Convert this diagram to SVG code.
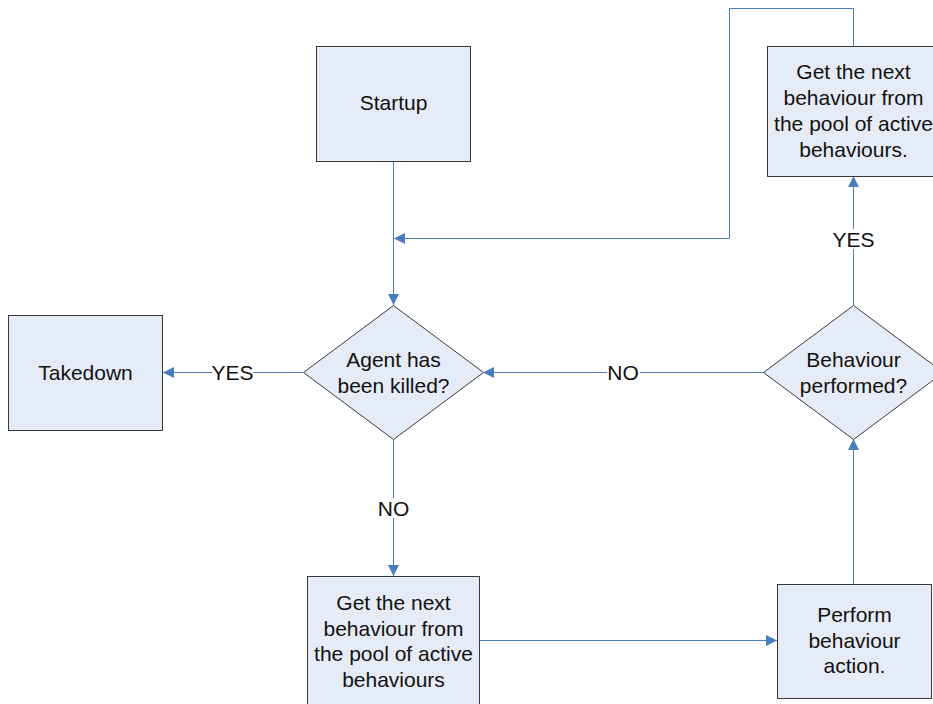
<svg xmlns="http://www.w3.org/2000/svg" width="933" height="704" viewBox="0 0 933 704">
  <style>
    .box { fill: #e6ecf7; stroke: #3a3a3a; stroke-width: 1; }
    .txt { font-family: "Liberation Sans", Arial, sans-serif; font-size: 21px; fill: #111; text-anchor: middle; }
    .conn { fill: none; stroke: #4a7ebb; stroke-width: 1; }
    .lblbg { fill: #ffffff; }
  </style>
  <defs>
    <marker id="arrow" viewBox="0 0 11 12" refX="11" refY="6" markerWidth="11" markerHeight="12" markerUnits="userSpaceOnUse" orient="auto">
      <path d="M0,0.5 L11,6 L0,11.5 Z" fill="#4a7ebb"/>
    </marker>
  </defs>
  <rect width="933" height="704" fill="#ffffff"/>

  <g id="connectors">
    <!-- Startup -> decision -->
    <path class="conn" d="M393.5,161 V305" marker-end="url(#arrow)"/>
    <!-- loop back from top-right box -->
    <path class="conn" d="M853.5,46 V8.5 H729.5 V238.5 H394" marker-end="url(#arrow)"/>
    <!-- killed? YES -> Takedown -->
    <path class="conn" d="M303,372.5 H163" marker-end="url(#arrow)"/>
    <!-- killed? NO -> get next -->
    <path class="conn" d="M393.5,439 V576" marker-end="url(#arrow)"/>
    <!-- get next -> perform -->
    <path class="conn" d="M479,640.5 H777" marker-end="url(#arrow)"/>
    <!-- perform -> performed? -->
    <path class="conn" d="M853.5,584 V439" marker-end="url(#arrow)"/>
    <!-- performed? YES -> get next (top) -->
    <path class="conn" d="M853.5,305 V176" marker-end="url(#arrow)"/>
    <!-- performed? NO -> killed? -->
    <path class="conn" d="M764,372.5 H483" marker-end="url(#arrow)"/>
    <!-- labels -->
    <rect class="lblbg" x="212" y="362" width="41" height="20"/>
    <text class="txt" x="232.5" y="380">YES</text>
    <rect class="lblbg" x="607" y="362" width="33" height="20"/>
    <text class="txt" x="623" y="380">NO</text>
    <rect class="lblbg" x="377" y="498" width="33" height="20"/>
    <text class="txt" x="393.5" y="516">NO</text>
    <rect class="lblbg" x="833" y="229" width="42" height="20"/>
    <text class="txt" x="853.5" y="247">YES</text>
  </g>

  <g id="startup">
    <rect class="box" x="316.5" y="46.5" width="154" height="115"/>
    <text class="txt" x="393.5" y="110">Startup</text>
  </g>

  <g id="get-next-top">
    <rect class="box" x="767.5" y="46.5" width="172" height="130"/>
    <text class="txt" x="853.5" y="79">Get the next<tspan x="853.5" dy="26">behaviour from</tspan><tspan x="853.5" dy="26">the pool of active</tspan><tspan x="853.5" dy="26">behaviours.</tspan></text>
  </g>

  <g id="takedown">
    <rect class="box" x="8.5" y="315.5" width="154" height="115"/>
    <text class="txt" x="85.5" y="380">Takedown</text>
  </g>

  <g id="agent-killed">
    <polygon class="box" points="393.5,305.5 483.5,372.5 393.5,439.5 303.5,372.5"/>
    <text class="txt" x="393.5" y="367">Agent has<tspan x="393.5" dy="25.5">been killed?</tspan></text>
  </g>

  <g id="behaviour-performed">
    <polygon class="box" points="853.5,305.5 943.5,372.5 853.5,439.5 763.5,372.5"/>
    <text class="txt" x="853.5" y="367">Behaviour<tspan x="853.5" dy="25.5">performed?</tspan></text>
  </g>

  <g id="get-next-bottom">
    <rect class="box" x="307.5" y="576.5" width="172" height="135"/>
    <text class="txt" x="393.5" y="610">Get the next<tspan x="393.5" dy="25.5">behaviour from</tspan><tspan x="393.5" dy="25.5">the pool of active</tspan><tspan x="393.5" dy="25.5">behaviours</tspan></text>
  </g>

  <g id="perform-action">
    <rect class="box" x="777.5" y="584.5" width="154" height="114"/>
    <text class="txt" x="854.5" y="622">Perform<tspan x="854.5" dy="25.5">behaviour</tspan><tspan x="854.5" dy="25.5">action.</tspan></text>
  </g>
</svg>
